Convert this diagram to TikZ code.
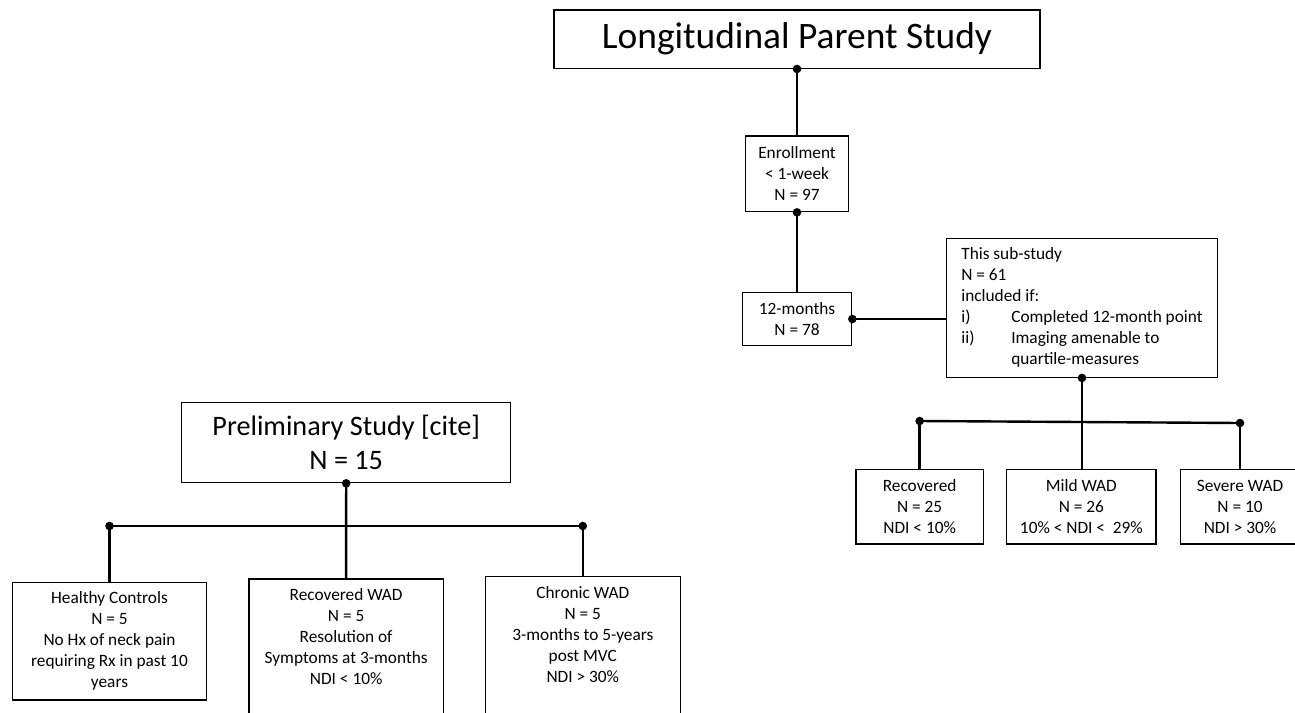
\documentclass[tikz,border=0pt]{standalone}
\usepackage{fontspec}
\setmainfont{Carlito}
\begin{document}
\begin{tikzpicture}[x=1pt,y=-1pt,
  box/.style={draw, line width=1.3pt, inner sep=0pt, align=center,
    font=\fontsize{17.3}{21}\selectfont},
  txt/.style={inner sep=0pt, align=center, font=\fontsize{17.3}{21}\selectfont},
  conn/.style={line width=2.4pt},
  dotc/.style={fill=black}]
\useasboundingbox (0,0) rectangle (1295,712);

% ---------- Longitudinal parent study ----------
\node[box, minimum width=486pt, minimum height=58.3pt,
  font=\fontsize{37.4}{44}\selectfont] (title) at (797,39.15) {Longitudinal Parent Study};
\node[box, minimum width=102.6pt, minimum height=75.7pt] (enr) at (797,173.85)
  {Enrollment\\< 1-week\\N = 97};
\node[box, minimum width=109.4pt, minimum height=53.4pt] (m12) at (797,319)
  {12-months\\N = 78};
\node[box, align=left, minimum width=270.6pt, minimum height=139pt] (sub) at (1082,307.8)
  {This sub-study\\N = 61\\included if:\\
   \makebox[50pt][l]{i)}Completed 12-month point\\
   \makebox[50pt][l]{ii)}Imaging amenable to\\
   \makebox[50pt][l]{}quartile-measures};
\node[box, minimum width=127.3pt, minimum height=74.7pt] (rec) at (919.65,506.65)
  {Recovered\\N = 25\\NDI < 10\%};
\node[box, minimum width=149.3pt, minimum height=74.7pt] (mild) at (1081.35,506.65)
  {Mild WAD\\N = 26\\10\% < NDI <\ \ 29\%};
\node[box, minimum width=118.6pt, minimum height=74.7pt] (sev) at (1240,506.65)
  {Severe WAD\\N = 10\\NDI > 30\%};

\coordinate (bl) at (919.65,421);
\coordinate (br) at (1240,423);

\draw[conn] (title.south) -- (enr.north);
\draw[conn] (enr.south) -- (m12.north);
\draw[conn] (m12.east) -- (m12.east -| sub.west);
\draw[conn] (sub.south) -- (sub.south |- mild.north);
\draw[conn] (bl) -- (br);
\draw[conn] (bl) -- (rec.north);
\draw[conn] (br) -- (sev.north);
\fill[dotc] (title.south) circle (4.3pt);
\fill[dotc] (enr.south) circle (4.3pt);
\fill[dotc] (m12.east) circle (4.3pt);
\fill[dotc] (sub.south) circle (4.3pt);
\fill[dotc] (bl) circle (4.3pt);
\fill[dotc] (br) circle (4.3pt);

% ---------- Preliminary study ----------
\node[box, minimum width=329pt, minimum height=80.4pt,
  font=\fontsize{28.2}{33.3}\selectfont] (prel) at (346.2,442.5)
  {Preliminary Study [cite]\\N = 15};
\node[box, minimum width=194.4pt, minimum height=117.7pt] (hc) at (109.5,641.15)
  {Healthy Controls\\N = 5\\No Hx of neck pain\\requiring Rx in past 10\\years};
\node[box, minimum width=194.3pt, minimum height=151.7pt, anchor=north] (rwad) at (346.15,578.3) {};
\node[txt] (rwadt) at (346.15,637) {Recovered WAD\\N = 5\\Resolution of\\Symptoms at 3-months\\NDI < 10\%};
\node[box, minimum width=195pt, minimum height=154pt, anchor=north] (cw) at (582.8,576) {};
\node[txt] (cwt) at (582.8,635) {Chronic WAD\\N = 5\\3-months to 5-years\\post MVC\\NDI > 30\%};

\coordinate (hbl) at (109.5,526);
\coordinate (hbr) at (582.8,526);

\draw[conn] (prel.south) -- (rwad.north);
\draw[conn] (hbl) -- (hbr);
\draw[conn] (hbl) -- (hc.north);
\draw[conn] (hbr) -- (cw.north);
\fill[dotc] (prel.south) circle (4.3pt);
\fill[dotc] (hbl) circle (4.3pt);
\fill[dotc] (hbr) circle (4.3pt);
\end{tikzpicture}
\end{document}
